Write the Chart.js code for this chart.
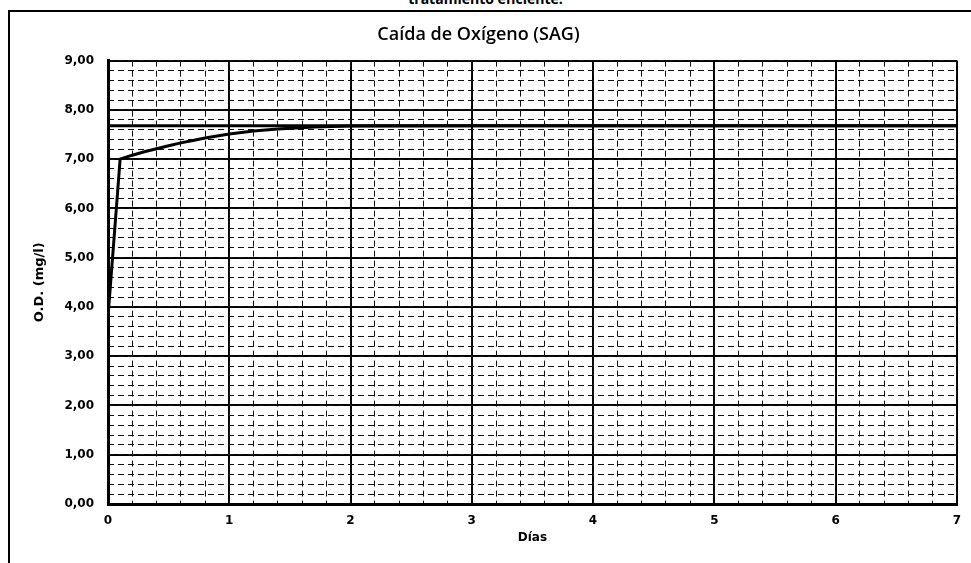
<!DOCTYPE html>
<html>
<head>
<meta charset="utf-8">
<script src="https://cdn.jsdelivr.net/npm/chart.js@4"></script>
<style>
  html, body { margin: 0; padding: 0; background: #fff; overflow: hidden; }
  #wrap { position: relative; width: 971px; height: 563px; }
  #frame { position: absolute; left: 8px; top: 10px; width: 980px; height: 580px;
           border-left: 2px solid #000; border-top: 2px solid #000; }
  #cut { position: absolute; top: -11px; left: 0; width: 971px; text-align: center;
         font: bold 14px "Open Sans", sans-serif; color: #000; }
  canvas { position: absolute; left: 0; top: 0; }
</style>
</head>
<body>
<div id="wrap">
  <div id="cut">tratamiento eficiente.</div>
  <div id="frame"></div>
  <canvas id="canvas" width="971" height="563"></canvas>
</div>
<script>
const canvas = document.getElementById("canvas");

// curva de oxigeno disuelto (dias, mg/l)
const dias = [0, 0.1, 0.2, 0.3, 0.4, 0.5, 0.6, 0.7, 0.8, 1.0, 1.2, 1.4, 1.7, 2.0, 3.0, 4.0, 5.0, 6.0, 7.0];
const oxigeno = [3.8, 7.0, 7.08, 7.15, 7.21, 7.27, 7.33, 7.38, 7.43, 7.51, 7.57, 7.61, 7.65, 7.67, 7.68, 7.68, 7.68, 7.68, 7.68];
// linea de saturacion
const satDias = [0, 7];
const saturacion = [7.68, 7.68];

const FONT = "'DejaVu Sans', sans-serif";

const grafico = new Chart(canvas, {
	type: "scatter",
	data: {
		datasets: [
			{
				data: satDias.map((x, i) => ({ x, y: saturacion[i] })),
				showLine: true,
				borderColor: "#000",
				borderWidth: 3,
				pointRadius: 0,
			},
			{
				data: dias.map((x, i) => ({ x, y: oxigeno[i] })),
				showLine: true,
				borderColor: "#000",
				borderWidth: 3,
				pointRadius: 0,
				tension: 0,
			},
		],
	},
	options: {
		responsive: false,
		animation: false,
		layout: { padding: { top: 14, right: 14, left: 0, bottom: 0 } },
		plugins: {
			legend: { display: false },
			tooltip: { enabled: false },
			title: {
				display: true,
				text: "Caída de Oxígeno (SAG)",
				color: "#000",
				font: { family: "'Open Sans', sans-serif", size: 18, weight: "600" },
				padding: { top: 10, bottom: 15 },
			},
		},
		scales: {
			x: {
				type: "linear",
				min: 0,
				max: 7,
				afterFit: (s) => { s.height = 59; },
				ticks: {
					stepSize: 1,
					color: "#000",
					padding: 10,
					font: { family: FONT, size: 12, weight: "bold" },
				},
				grid: { color: "#000", lineWidth: 2, drawTicks: false },
				border: { color: "#000", width: 3 },
				title: {
					display: true,
					text: "Días",
					color: "#000",
					font: { family: FONT, size: 12, weight: "bold" },
					padding: { top: 2, bottom: 18 },
				},
			},
			y: {
				min: 0,
				max: 9,
				afterFit: (s) => { s.width = 108; },
				ticks: {
					stepSize: 1,
					color: "#000",
					padding: 14,
					font: { family: FONT, size: 12, weight: "bold" },
					callback: (v) => v.toFixed(2).replace(".", ","),
				},
				grid: { color: "#000", lineWidth: 2, drawTicks: false },
				border: { color: "#000", width: 3 },
				title: {
					display: true,
					text: "O.D. (mg/l)",
					color: "#000",
					font: { family: FONT, size: 13, weight: "bold" },
					padding: { top: 32, bottom: 0 },
				},
			},
			x2: {
				type: "linear",
				position: "bottom",
				min: 0,
				max: 7,
				z: -1,
				afterFit: (s) => { s.height = 0; },
				ticks: { display: false, stepSize: 0.2 },
				grid: { color: "#111", lineWidth: 1, drawTicks: false },
				border: { display: false, dash: [6, 4] },
			},
			y2: {
				position: "left",
				min: 0,
				max: 9,
				z: -1,
				afterFit: (s) => { s.width = 0; },
				ticks: { display: false, stepSize: 0.2 },
				grid: { color: "#111", lineWidth: 1, drawTicks: false },
				border: { display: false, dash: [6, 4] },
			},
		},
	},
});
</script>
</body>
</html>
